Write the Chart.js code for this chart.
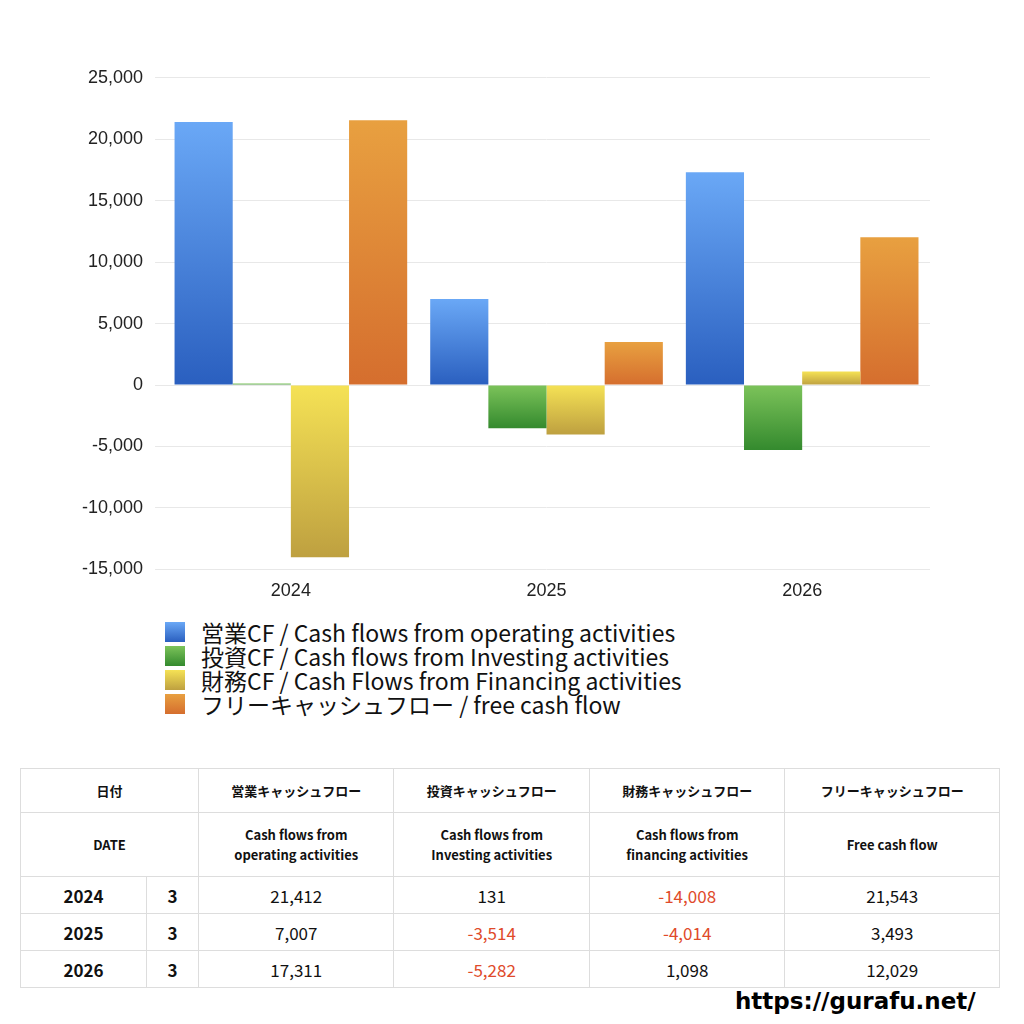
<!DOCTYPE html>
<html>
<head>
<meta charset="utf-8">
<script src="https://cdn.jsdelivr.net/npm/chart.js@4"></script>
<style>
  body { margin: 0; width: 1024px; height: 1024px; background: #fff; font-family: "Noto Sans CJK JP", "Noto Sans", sans-serif; position: relative; overflow: hidden; }
  #wrap { position: absolute; left: 0; top: 55px; width: 930px; height: 550px; }
  #legend { position: absolute; left: 165px; top: 620px; font-size: 23px; line-height: 24px; color: #111; }
  #legend div { display: flex; align-items: center; }
  #legend span.box { width: 20px; height: 20px; margin-right: 16px; display: inline-block; }
  table { position: absolute; left: 20px; top: 768px; width: 980px; border-collapse: collapse; }
  td, th { border: 1px solid #ddd; text-align: center; color: #111; }
  th { font-size: 13px; font-weight: bold; }
  tr.h1 th { height: 41px; }
  tr.h2 th { height: 61px; line-height: 20px; }
  tr.d td { height: 34px; font-size: 17px; }
  td.y { font-weight: bold; font-size: 18px; }
  .neg { color: #e04a2a; }
  #url { position: absolute; left: 735px; top: 988px; font-size: 23px; font-weight: bold; font-family: "DejaVu Sans", sans-serif; }
</style>
</head>
<body>
<div id="wrap"><canvas id="c"></canvas></div>
<div id="legend"></div>
<table id="tbl"></table>
<div id="url">https://gurafu.net/</div>
<script>
// データ
const years = ['2024', '2025', '2026'];
const operating = [21412, 7007, 17311];
const investing = [131, -3514, -5282];
const financing = [-14008, -4014, 1098];
const freeCF = [21543, 3493, 12029];
const yTicks = [25000, 20000, 15000, 10000, 5000, 0, -5000, -10000, -15000];

const labelsJa = ['営業CF / Cash flows from operating activities', '投資CF / Cash flows from Investing activities', '財務CF / Cash Flows from Financing activities', 'フリーキャッシュフロー / free cash flow'];
const colors = [['#6aa8f6', '#2a5fbf'], ['#7cc35a', '#348a2e'], ['#f5e255', '#bea040'], ['#e8a040', '#d56e2e']];

function grad(pair) {
    return function(ctx) {
        const chart = ctx.chart;
        if (!chart.chartArea || ctx.type !== 'data') return pair[1];
        const y = chart.scales.y;
        const v = ctx.parsed.y;
        const top = y.getPixelForValue(Math.max(v, 0));
        const bot = y.getPixelForValue(Math.min(v, 0));
        const g = chart.ctx.createLinearGradient(0, top, 0, bot + 0.01);
        g.addColorStop(0, pair[0]);
        g.addColorStop(1, pair[1]);
        return g;
    };
}

const series = [operating, investing, financing, freeCF];
new Chart(document.getElementById('c'), {
    type: 'bar',
    data: {
        labels: years,
        datasets: series.map((d, i) => ({ label: labelsJa[i], data: d, backgroundColor: grad(colors[i]) }))
    },
    options: {
        responsive: true,
        maintainAspectRatio: false,
        animation: false,
        datasets: { bar: { categoryPercentage: 0.91, barPercentage: 1 } },
        layout: { padding: { left: 70, top: 0 } },
        plugins: { legend: { display: false }, tooltip: { enabled: false } },
        scales: {
            x: { grid: { display: false }, border: { display: false },
                 ticks: { color: '#222', font: { size: 18 } } },
            y: { min: -15000, max: 25000, border: { display: false },
                 grid: { color: '#e8e8e8' },
                 afterBuildTicks: s => { s.ticks = yTicks.map(v => ({ value: v })); },
                 ticks: { color: '#222', font: { size: 18 }, padding: 12,
                          callback: v => v.toLocaleString('en-US') } }
        }
    }
});

// 凡例
const legend = document.getElementById('legend');
labelsJa.forEach((t, i) => {
    const row = document.createElement('div');
    row.innerHTML = `<span class="box" style="background:linear-gradient(${colors[i][0]},${colors[i][1]})"></span>${t}`;
    legend.appendChild(row);
});

// 表
const fmt = v => `<td class="${v < 0 ? 'neg' : ''}">${v.toLocaleString('en-US')}</td>`;
let html = '<tr class="h1"><th colspan="2">日付</th><th>営業キャッシュフロー</th><th>投資キャッシュフロー</th><th>財務キャッシュフロー</th><th>フリーキャッシュフロー</th></tr>';
html += '<tr class="h2"><th colspan="2" style="font-weight:bold">DATE</th><th>Cash flows from<br>operating activities</th><th>Cash flows from<br>Investing activities</th><th>Cash flows from<br>financing activities</th><th>Free cash flow</th></tr>';
years.forEach((y, i) => {
    html += `<tr class="d"><td class="y" style="width:123px">${y}</td><td class="y" style="width:49px">3</td>${fmt(operating[i])}${fmt(investing[i])}${fmt(financing[i])}${fmt(freeCF[i])}</tr>`;
});
document.getElementById('tbl').innerHTML = html;
</script>
</body>
</html>
